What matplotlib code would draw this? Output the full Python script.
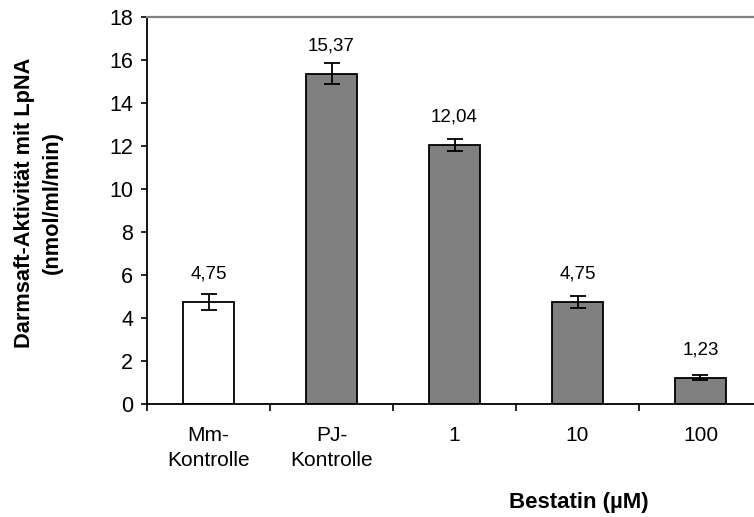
import matplotlib.pyplot as plt
import numpy as np

plt.rcParams['font.family'] = ['Liberation Sans', 'DejaVu Sans']

categories = ['Mm-\nKontrolle', 'PJ-\nKontrolle', '1', '10', '100']
values = [4.75, 15.37, 12.04, 4.75, 1.23]
errors = [0.37, 0.48, 0.29, 0.29, 0.10]
value_labels = ['4,75', '15,37', '12,04', '4,75', '1,23']
colors = ['white', '#808080', '#808080', '#808080', '#808080']


def main():
    fig = plt.figure(figsize=(7.54, 5.17), dpi=100)
    # plot area runs a little past the right edge of the figure
    ax = fig.add_axes([0.195, 0.2186, 0.8156, 0.7484])

    x = np.arange(len(categories))
    ax.bar(x, values, width=0.41, color=colors, edgecolor='black', linewidth=1.3, zorder=2)
    ax.errorbar(x, values, yerr=errors, fmt='none', ecolor='black', elinewidth=1.3,
                capsize=5.5, capthick=1.3, zorder=3)

    for xi, v, lab in zip(x, values, value_labels):
        ax.annotate(lab, (xi, v), xytext=(0, 14), textcoords='offset points',
                    ha='center', va='bottom', fontsize=13.5)

    ax.set_xlim(-0.5, len(categories) - 0.5)
    ax.set_ylim(0, 18)
    ax.set_yticks(np.arange(0, 19, 2))
    ax.tick_params(axis='y', direction='out', length=4, width=1.2, pad=6, labelsize=15.5)

    ax.set_xticks(x)
    ax.set_xticklabels(categories, fontsize=15, linespacing=1.4, va='top')
    ax.set_xticks(np.arange(-0.5, len(categories)), minor=True)
    ax.tick_params(axis='x', which='major', length=0, pad=16)
    ax.tick_params(axis='x', which='minor', direction='out', length=5, width=1.2)

    ax.spines['left'].set_linewidth(1.3)
    ax.spines['bottom'].set_linewidth(1.3)
    ax.spines['top'].set_color('#808080')
    ax.spines['top'].set_linewidth(1.6)
    ax.spines['right'].set_visible(False)

    ax.set_ylabel('Darmsaft-Aktivität mit LpNA\n(nmol/ml/min)', fontsize=15.7,
                  fontweight='bold', linespacing=1.42)
    ax.yaxis.set_label_coords(-0.137, 0.52)
    fig.text(0.767, 0.029, 'Bestatin (µM)', fontsize=16, fontweight='bold',
             ha='center', va='center')

    fig.savefig('out.png', dpi=100)


if __name__ == '__main__':
    main()
